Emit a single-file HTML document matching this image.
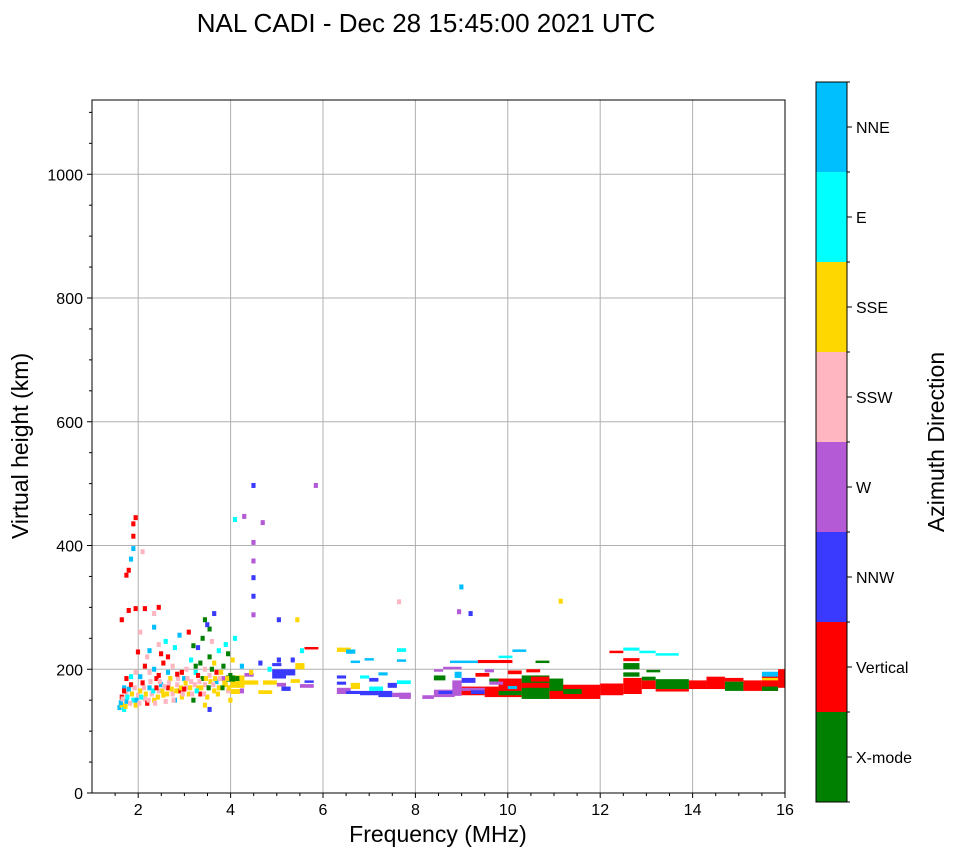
<!DOCTYPE html>
<html><head><meta charset="utf-8">
<style>
body{margin:0;background:#fff;font-family:"Liberation Sans",sans-serif;}
svg text{font-family:"Liberation Sans",sans-serif;}
</style></head>
<body>
<svg id="chart" width="958" height="857" xmlns="http://www.w3.org/2000/svg">
<text x="426" y="32" font-size="26" text-anchor="middle">NAL CADI - Dec 28 15:45:00 2021 UTC</text>
<g id="grid"></g>
<g id="marks"></g>
<rect x="92" y="100" width="693" height="693" fill="none" stroke="#000" stroke-width="1"/>
<g id="axes"></g>
<text x="438" y="842" font-size="23" text-anchor="middle">Frequency (MHz)</text>
<text transform="translate(28,446) rotate(-90)" font-size="23" text-anchor="middle">Virtual height (km)</text>
<g id="cbar"></g>
<text transform="translate(944,442) rotate(-90)" font-size="23" text-anchor="middle">Azimuth Direction</text>
</svg>
<script>
const categories = ["X-mode","Vertical","NNW","W","SSW","SSE","E","NNE"];
const catColors = ["#008000","#ff0000","#3a3aff","#b45ad6","#ffb6c1","#ffd700","#00ffff","#00bfff"];
const xTicks = [2,4,6,8,10,12,14,16];
const yTicks = [0,200,400,600,800,1000];
// blocks: [f0, f1, h0, h1, category]
const blocks = [
 [13.2,13.92,168,184,0],[13.2,13.92,164,168,1],[13.92,14.3,168,182,1],[14.3,14.7,168,188,1],
 [14.7,15.1,165,180,0],[14.7,15.1,180,186,1],[15.1,15.5,165,182,1],[15.5,15.85,165,190,1],
 [15.5,15.85,165,172,0],[15.5,15.85,188,196,7],[15.5,15.85,182,186,5],[15.85,16,170,200,1],
 [10.9,12.0,152,175,1],[10.9,11.2,165,185,0],[11.2,11.6,160,168,0],[12.0,12.5,158,177,1],
 [12.5,12.9,160,186,1],[12.5,12.85,200,210,0],[12.5,12.85,213,218,1],[12.9,13.2,168,182,1],
 [12.9,13.2,182,188,0],[12.2,12.5,226,230,1],[12.5,12.85,230,235,6],[12.85,13.2,226,230,6],
 [13.2,13.7,222,226,6],[12.5,12.85,188,195,0],[13.0,13.3,195,199,0],
 [7.65,7.9,152,162,3],[8.15,8.4,152,158,3],[8.4,8.85,155,167,3],[8.5,8.85,160,165,2],
 [8.8,9.0,157,182,3],[8.8,9.0,170,178,3],[9.0,9.5,158,172,1],[9.0,9.5,165,170,3],
 [9.5,9.8,155,172,1],[9.8,10.3,155,185,1],[9.8,10.3,158,165,0],[10.3,10.9,152,190,0],
 [10.3,10.9,170,178,1],[10.5,10.9,180,188,1],[9.35,10.1,210,215,1],[8.75,9.35,210,214,7],
 [9.8,10.1,218,222,6],[10.1,10.4,228,232,7],[10.6,10.9,210,214,0],[9.0,9.3,178,186,2],
 [9.3,9.6,188,194,1],[9.6,9.8,180,185,0],[8.4,8.65,182,190,0],[8.4,8.6,196,200,3],
 [8.6,9.0,200,204,3],[8.85,9.0,186,196,7],[9.2,9.5,160,166,2],[9.6,9.9,175,180,3],
 [10.0,10.3,192,198,1],[10.4,10.7,195,200,1],[9.5,9.7,195,200,3],[10.0,10.2,168,173,7],
 [6.3,6.6,160,170,3],[6.3,6.5,175,180,2],[6.5,6.8,160,165,2],[6.6,6.8,168,178,5],[6.8,7.2,158,165,2],
 [7.0,7.3,165,172,6],[7.2,7.5,155,165,2],[7.5,7.9,155,162,3],[7.4,7.6,170,178,2],
 [7.0,7.2,180,186,2],[7.6,7.9,176,182,6],[6.3,6.6,228,235,5],[6.5,6.7,225,232,7],
 [6.9,7.1,214,218,7],[6.6,6.8,210,214,7],[7.6,7.8,228,234,6],[7.6,7.8,212,216,7],
 [6.3,6.5,185,190,2],[6.8,7.0,185,190,6],[7.2,7.4,190,195,7],
 [4.0,4.3,170,190,5],[4.3,4.6,175,182,5],[4.6,4.9,160,166,5],[4.7,5.0,175,182,5],
 [4.9,5.2,185,200,2],[5.1,5.3,165,172,2],[5.2,5.4,190,200,2],[5.4,5.6,200,210,5],
 [5.5,5.8,170,176,3],[4.9,5.1,205,210,2],[5.6,5.9,232,236,1],[5.6,5.8,178,182,2],
 [4.0,4.2,160,168,5],[3.9,4.1,180,190,0],[4.3,4.5,188,194,3],[5.0,5.2,172,178,3],[5.3,5.5,178,184,5]
];
// cells: [freq, height, category]
const cells = [
 [1.55,138,7],[1.6,142,5],[1.65,135,6],[1.7,148,7],[1.6,155,1],[1.7,160,4],[1.75,168,7],[1.8,175,1],
 [1.85,150,6],[1.9,142,5],[1.95,158,4],[2.0,165,5],[2.05,178,1],[2.1,152,4],[2.15,145,1],[2.2,170,7],
 [2.25,160,4],[2.3,150,5],[2.35,185,1],[2.4,165,4],[2.45,175,7],[2.5,158,5],[2.55,148,4],[2.6,170,1],
 [2.65,185,5],[2.7,160,4],[2.75,150,7],[2.8,175,4],[2.85,165,1],[2.9,155,5],[2.95,185,7],[3.0,170,4],
 [3.05,160,5],[3.1,180,4],[3.15,150,0],[3.2,195,6],[3.25,170,5],[3.3,160,1],[3.35,185,0],[3.4,175,4],
 [3.45,155,5],[3.5,190,4],[3.55,200,0],[3.6,165,5],[3.65,180,7],[3.7,170,5],[3.75,195,5],[3.8,185,3],
 [3.85,175,5],[3.9,165,4],[3.95,190,0],[1.7,185,1],[1.9,195,4],[2.1,205,1],[2.3,200,7],[2.5,210,1],
 [2.7,205,4],[2.9,195,1],[3.1,215,6],[3.3,210,0],[3.5,220,0],[3.7,230,6],[3.9,225,0],[2.2,230,7],
 [2.4,240,4],[2.6,220,1],[2.85,255,7],[3.05,260,1],[3.35,250,0],[3.5,265,0],[1.95,228,1],[2.0,260,4],
 [2.3,268,7],[2.55,245,6],[3.25,235,2],[1.6,280,1],[1.75,295,1],[1.9,298,1],[2.1,298,1],[2.3,290,4],
 [2.4,300,1],[3.4,280,0],[3.6,290,2],[3.45,272,2],[1.75,360,1],[1.7,352,1],[1.8,378,7],[1.85,395,7],
 [1.85,415,1],[1.85,435,1],[1.9,445,1],[2.05,390,4],[4.05,250,6],[4.05,442,6],[4.25,447,3],
 [4.45,405,3],[4.45,375,3],[4.45,348,2],[4.45,318,2],[4.45,288,3],[4.45,497,2],[4.65,437,3],
 [5.8,497,3],[5.0,280,2],[5.4,280,5],[7.6,309,4],[8.95,333,7],[8.9,293,3],[9.15,290,2],[11.1,310,5],
 [4.0,215,5],[4.2,205,7],[4.4,195,5],[4.6,210,2],[4.8,200,6],[5.0,215,2],[5.3,215,2],[5.5,230,6],
 [4.1,185,0],[4.2,165,3],[3.95,150,5],[3.5,135,2],[3.4,142,5],
 [1.58,146,7],[1.62,152,4],[1.68,140,5],[1.72,155,6],[1.78,145,4],[1.82,160,5],[1.88,170,4],[1.92,150,7],
 [1.98,145,4],[2.02,155,6],[2.08,170,4],[2.12,160,5],[2.18,150,4],[2.22,180,4],[2.28,165,6],[2.32,145,4],
 [2.38,155,5],[2.42,180,4],[2.48,165,5],[2.52,172,4],[2.58,160,5],[2.62,178,4],[2.68,168,5],[2.72,150,4],
 [2.78,165,5],[2.82,185,4],[2.88,170,5],[2.92,160,4],[2.98,178,5],[3.02,185,4],[3.08,170,5],[3.12,160,4],
 [3.18,175,4],[3.22,165,6],[3.28,180,4],[3.32,170,5],[3.38,160,4],[3.42,185,5],[3.48,170,0],[3.52,180,5],
 [3.58,175,4],[3.62,185,5],[3.68,160,5],[3.72,185,4],[3.78,170,0],[3.82,178,5],[3.88,185,5],[3.92,170,5],
 [1.65,170,7],[1.8,188,6],[2.0,188,7],[2.2,195,4],[2.4,190,1],[2.6,195,7],[2.8,192,1],[3.0,200,4],
 [3.2,205,0],[3.4,200,4],[3.6,210,5],[3.8,205,0],[2.15,220,4],[2.45,225,1],[2.75,235,6],[3.15,238,0],
 [3.55,245,4],[3.85,240,6],[1.65,165,1],[2.35,170,1],[2.95,168,1],[3.25,190,1],[3.65,195,1]
];
const X0=92,X1=785,Y0=793,Y1=100,fMin=1,fMax=16,hMin=0,hMax=1120;
const xs=f=>X0+(f-fMin)/(fMax-fMin)*(X1-X0);
const ys=h=>Y0-(h-hMin)/(hMax-hMin)*(Y0-Y1);
const NS="http://www.w3.org/2000/svg";
function mk(tag,attrs,parent){const e=document.createElementNS(NS,tag);for(const k in attrs)e.setAttribute(k,attrs[k]);parent.appendChild(e);return e;}
const grid=document.getElementById('grid'),marks=document.getElementById('marks'),axes=document.getElementById('axes'),cbar=document.getElementById('cbar');
xTicks.forEach(t=>{const x=xs(t);
 const l=mk('line',{x1:x,x2:x,y1:Y1,y2:Y0,stroke:'#b0b0b0','stroke-width':1},grid);
 
 mk('line',{x1:x,x2:x,y1:Y0,y2:Y0+5,stroke:'#000'},axes);
 const tx=mk('text',{x:x,y:Y0+22,'font-size':16,'text-anchor':'middle'},axes);tx.textContent=t;
 
});
for(let f=1.5;f<16;f+=0.5){if(Number.isInteger(f)&&f%2===0)continue;mk('line',{x1:xs(f),x2:xs(f),y1:Y0,y2:Y0+3,stroke:'#000'},axes);}
yTicks.forEach(t=>{const y=ys(t);
 const l=mk('line',{x1:X0,x2:X1,y1:y,y2:y,stroke:'#b0b0b0','stroke-width':1},grid);
 
 mk('line',{x1:X0-5,x2:X0,y1:y,y2:y,stroke:'#000'},axes);
 const tx=mk('text',{x:X0-9,y:y+6,'font-size':16,'text-anchor':'end'},axes);tx.textContent=t;
 
});
for(let h=50;h<1120;h+=50){if(h%200===0)continue;mk('line',{x1:X0-3,x2:X0,y1:ys(h),y2:ys(h),stroke:'#000'},axes);}
blocks.forEach(b=>{
 const r=mk('rect',{x:xs(b[0]),y:ys(b[3]),width:xs(b[1])-xs(b[0]),height:ys(b[2])-ys(b[3]),fill:catColors[b[4]]},marks);
 
});
cells.forEach(c=>{
 const r=mk('rect',{x:xs(c[0]),y:ys(c[1]+4),width:xs(c[0]+0.09)-xs(c[0]),height:ys(c[1]-4)-ys(c[1]+4),fill:catColors[c[2]]},marks);
 
});
const CB={x:816,y:82,w:31,h:720},seg=CB.h/categories.length;
categories.forEach((c,i)=>{
 const y=CB.y+CB.h-(i+1)*seg;
 const r=mk('rect',{x:CB.x,y:y,width:CB.w,height:seg,fill:catColors[i]},cbar);
 
 mk('line',{x1:CB.x+CB.w,x2:CB.x+CB.w+5,y1:y+seg/2,y2:y+seg/2,stroke:'#000'},cbar);
 mk('line',{x1:CB.x+CB.w,x2:CB.x+CB.w+3,y1:y,y2:y,stroke:'#000'},cbar);
 const t=mk('text',{x:CB.x+CB.w+9,y:y+seg/2+6,'font-size':16},cbar);t.textContent=c;
 
});
mk('line',{x1:CB.x+CB.w,x2:CB.x+CB.w+3,y1:CB.y+CB.h,y2:CB.y+CB.h,stroke:'#000'},cbar);
mk('rect',{x:CB.x,y:CB.y,width:CB.w,height:CB.h,fill:'none',stroke:'#000'},cbar);
</script>
</body></html>
